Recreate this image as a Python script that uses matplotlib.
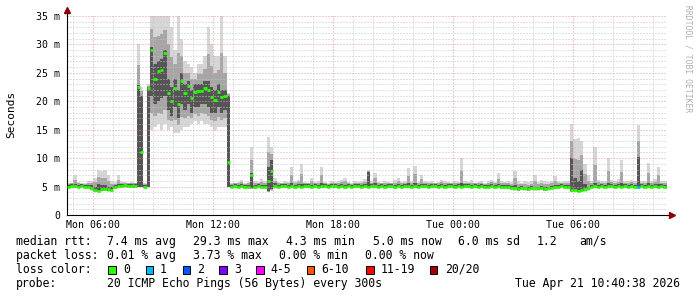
""" SmokePing style latency graph drawn with matplotlib """
import numpy as np
import matplotlib
matplotlib.use("Agg")
import matplotlib.pyplot as plt
from matplotlib.patches import Rectangle

W, H = 697, 297
MONO = "DejaVu Sans Mono"

# one value per 10 minute step, starting Mon 04:42, values in ms
median = [
    5.0, 5.1, 5.1, 5.0, 5.1, 5.0, 5.0, 4.8, 4.4, 4.3, 4.5, 4.6,
    4.5, 4.4, 4.9, 5.1, 5.1, 5.2, 5.1, 5.1, 5.1, 22.5, 11.0, 5.0,
    22.3, 29.0, 24.0, 25.4, 25.5, 28.5, 21.5, 20.0, 22.4, 19.5, 23.5, 21.5,
    22.7, 20.5, 21.7, 21.8, 21.8, 22.3, 22.0, 20.8, 20.3, 21.7, 20.8, 21.0,
    9.3, 5.0, 5.1, 5.0, 5.1, 5.0, 5.0, 7.0, 5.0, 5.1, 5.0, 4.9,
    6.0, 7.7, 5.1, 5.0, 5.1, 5.1, 5.0, 5.1, 5.0, 5.1, 5.0, 5.1,
    5.1, 5.0, 5.1, 5.0, 5.1, 5.1, 5.0, 5.1, 5.1, 5.0, 5.1, 5.0,
    5.1, 5.0, 5.1, 5.1, 5.0, 5.1, 5.0, 5.1, 5.1, 5.0, 5.1, 5.0,
    5.1, 5.1, 5.0, 5.1, 5.0, 5.1, 5.1, 5.0, 5.1, 5.0, 5.1, 5.1,
    5.0, 5.1, 5.1, 5.0, 5.1, 5.0, 5.1, 5.1, 5.0, 5.1, 5.0, 5.1,
    5.1, 5.0, 5.1, 5.0, 5.1, 5.0, 5.0, 5.1, 5.0, 5.1, 4.9, 5.0,
    4.9, 4.8, 4.7, 4.6, 4.8, 4.7, 4.6, 4.8, 4.7, 4.7, 4.8, 4.6,
    4.7, 4.8, 4.9, 5.0, 5.1, 5.0, 4.9, 4.4, 4.4, 4.3, 4.4, 4.5,
    4.7, 5.0, 5.1, 5.0, 5.1, 5.0, 5.1, 5.1, 5.0, 5.1, 5.0, 5.1,
    5.0, 5.1, 5.0, 5.0, 5.1, 5.0, 5.1, 5.0, 5.1, 5.0, 5.1, 5.0,
]
smoke_lo = [
    4.6, 4.7, 4.7, 4.6, 4.7, 4.6, 4.6, 4.3, 4.1, 4.0, 4.1, 4.2,
    4.1, 4.1, 4.5, 4.7, 4.7, 4.8, 4.7, 4.7, 4.7, 5.0, 5.0, 4.7,
    5.0, 15.0, 15.5, 16.0, 15.0, 16.0, 15.0, 15.5, 14.5, 14.5, 15.0, 15.5,
    15.5, 16.0, 16.5, 16.0, 16.5, 16.0, 16.0, 15.5, 15.0, 15.5, 15.5, 15.5,
    5.0, 4.7, 4.7, 4.6, 4.7, 4.6, 4.6, 4.6, 4.6, 4.7, 4.6, 4.5,
    4.0, 4.2, 4.6, 4.6, 4.7, 4.7, 4.6, 4.7, 4.6, 4.7, 4.6, 4.7,
    4.7, 4.6, 4.7, 4.6, 4.7, 4.7, 4.6, 4.7, 4.7, 4.6, 4.7, 4.6,
    4.7, 4.6, 4.7, 4.7, 4.6, 4.7, 4.6, 4.7, 4.7, 4.6, 4.7, 4.6,
    4.7, 4.7, 4.6, 4.7, 4.6, 4.7, 4.7, 4.6, 4.7, 4.6, 4.7, 4.7,
    4.6, 4.7, 4.7, 4.6, 4.7, 4.6, 4.7, 4.7, 4.6, 4.7, 4.6, 4.7,
    4.7, 4.6, 4.7, 4.6, 4.7, 4.6, 4.6, 4.7, 4.6, 4.7, 4.5, 4.6,
    4.5, 4.4, 4.3, 4.2, 4.4, 4.3, 4.2, 4.4, 4.3, 4.3, 4.4, 4.2,
    4.3, 4.4, 4.5, 4.6, 4.7, 4.6, 4.5, 4.0, 4.0, 4.0, 4.0, 4.1,
    4.3, 4.6, 4.7, 4.6, 4.7, 4.6, 4.7, 4.7, 4.6, 4.7, 4.6, 4.7,
    4.6, 4.7, 4.6, 4.6, 4.7, 4.6, 4.7, 4.6, 4.7, 4.6, 4.7, 4.6,
]
smoke_hi = [
    5.6, 5.7, 7.0, 5.8, 5.6, 5.7, 5.9, 6.0, 6.5, 8.0, 7.8, 7.9,
    7.0, 6.0, 5.8, 7.0, 5.9, 5.8, 5.7, 5.8, 5.7, 30.0, 22.5, 5.6,
    23.0, 36.0, 36.0, 36.0, 36.0, 36.0, 36.0, 33.0, 29.0, 35.0, 31.0, 27.0,
    26.6, 26.0, 25.0, 26.6, 26.5, 28.0, 33.0, 30.0, 28.0, 28.0, 35.0, 28.0,
    21.5, 5.6, 5.7, 5.8, 6.2, 5.7, 5.8, 12.0, 6.0, 5.8, 6.4, 5.9,
    13.7, 12.0, 6.5, 5.8, 5.7, 6.0, 5.8, 8.5, 5.9, 6.2, 9.0, 5.8,
    5.7, 6.5, 5.8, 5.9, 8.4, 5.8, 5.7, 6.0, 5.8, 5.9, 6.2, 6.5,
    5.8, 5.7, 6.0, 5.8, 5.9, 6.3, 7.9, 6.0, 7.3, 5.8, 5.7, 6.0,
    5.8, 5.7, 6.1, 6.5, 5.8, 5.9, 8.2, 6.0, 8.7, 5.8, 7.1, 5.9,
    5.8, 6.0, 5.7, 5.8, 6.2, 5.9, 5.8, 5.7, 6.0, 5.8, 10.0, 5.9,
    5.8, 6.1, 5.7, 5.8, 6.0, 5.7, 5.9, 6.2, 5.8, 7.3, 5.9, 5.8,
    6.0, 5.8, 7.8, 5.9, 5.7, 6.0, 5.8, 5.9, 7.0, 5.8, 6.1, 5.9,
    5.8, 6.0, 6.8, 5.9, 5.8, 6.0, 5.9, 16.0, 13.3, 13.5, 13.0, 9.0,
    7.0, 6.0, 12.0, 6.2, 5.9, 6.0, 10.0, 6.1, 5.9, 6.3, 9.6, 6.0,
    5.9, 6.2, 6.0, 15.8, 6.0, 5.9, 9.2, 6.0, 6.3, 8.4, 6.0, 5.9,
]
core_lo = [
    4.9, 4.9, 4.9, 4.9, 4.9, 4.9, 4.8, 4.6, 4.3, 4.2, 4.3, 4.4,
    4.3, 4.3, 4.7, 4.9, 4.9, 5.0, 4.9, 4.9, 4.9, 5.0, 5.0, 4.9,
    5.0, 21.0, 19.5, 20.0, 20.5, 21.0, 18.5, 17.5, 19.0, 17.0, 19.5, 18.5,
    19.5, 18.0, 19.0, 19.0, 19.5, 19.5, 19.0, 18.0, 18.0, 19.0, 18.0, 18.5,
    5.0, 4.9, 4.9, 4.8, 4.9, 4.8, 4.8, 4.7, 4.8, 4.9, 4.8, 4.7,
    4.2, 4.5, 4.9, 4.8, 4.9, 4.9, 4.8, 4.9, 4.8, 4.9, 4.8, 4.9,
    4.9, 4.8, 4.9, 4.8, 4.9, 4.9, 4.8, 4.9, 4.9, 4.8, 4.9, 4.8,
    4.9, 4.8, 4.9, 4.9, 4.8, 4.9, 4.8, 4.9, 4.9, 4.8, 4.9, 4.8,
    4.9, 4.9, 4.8, 4.9, 4.8, 4.9, 4.9, 4.8, 4.9, 4.8, 4.9, 4.9,
    4.8, 4.9, 4.9, 4.8, 4.9, 4.8, 4.9, 4.9, 4.8, 4.9, 4.8, 4.9,
    4.9, 4.8, 4.9, 4.8, 4.9, 4.8, 4.8, 4.9, 4.8, 4.9, 4.7, 4.8,
    4.7, 4.6, 4.5, 4.4, 4.6, 4.5, 4.4, 4.6, 4.5, 4.5, 4.6, 4.4,
    4.5, 4.6, 4.7, 4.8, 4.9, 4.8, 4.7, 4.2, 4.2, 4.1, 4.2, 4.3,
    4.5, 4.8, 4.9, 4.8, 4.9, 4.8, 4.9, 4.9, 4.8, 4.9, 4.8, 4.9,
    4.8, 4.9, 4.8, 4.8, 4.9, 4.8, 4.9, 4.8, 4.9, 4.8, 4.9, 4.8,
]
core_hi = [
    5.3, 5.4, 5.4, 5.3, 5.4, 5.3, 5.3, 5.2, 5.0, 5.4, 5.3, 5.2,
    5.0, 4.9, 5.2, 5.4, 5.4, 5.5, 5.4, 5.4, 5.4, 22.8, 21.0, 5.3,
    22.5, 29.5, 26.5, 27.0, 27.5, 29.0, 24.0, 22.5, 24.0, 22.0, 25.0, 23.0,
    23.5, 22.0, 23.0, 23.0, 23.0, 23.5, 23.5, 22.5, 22.0, 23.0, 22.0, 22.0,
    21.0, 5.3, 5.4, 5.3, 5.4, 5.3, 5.3, 7.3, 5.3, 5.4, 5.3, 5.2,
    8.5, 9.6, 5.6, 5.3, 5.4, 5.4, 5.3, 5.6, 5.3, 5.4, 5.5, 5.4,
    5.4, 5.3, 5.4, 5.3, 5.6, 5.4, 5.3, 5.4, 5.4, 5.3, 5.4, 5.3,
    5.4, 5.3, 5.4, 5.4, 5.3, 5.4, 7.5, 5.4, 5.6, 5.3, 5.4, 5.3,
    5.4, 5.4, 5.3, 5.4, 5.3, 5.4, 5.6, 5.3, 5.7, 5.3, 5.4, 5.4,
    5.3, 5.4, 5.4, 5.3, 5.4, 5.3, 5.4, 5.4, 5.3, 5.4, 5.6, 5.4,
    5.4, 5.3, 5.4, 5.3, 5.4, 5.3, 5.3, 5.4, 5.3, 5.5, 5.2, 5.3,
    5.2, 5.1, 5.3, 4.9, 5.1, 5.0, 4.9, 5.1, 5.0, 5.0, 5.1, 4.9,
    5.0, 5.1, 5.2, 5.3, 5.4, 5.3, 5.2, 10.0, 6.5, 6.0, 8.0, 5.5,
    5.0, 5.3, 5.6, 5.3, 5.4, 5.3, 5.6, 5.4, 5.3, 5.4, 5.6, 5.4,
    5.3, 5.4, 5.3, 10.2, 5.4, 5.3, 5.6, 5.3, 5.4, 5.5, 5.4, 5.3,
]
# lost pings per step (out of 20)
loss = [0] * 171 + [1] + [0] * 8

t_start = 4.7  # hours since Mon 00:00
t_step = 1.0 / 6

x_ticks = [6, 12, 18, 24, 30]
x_labels = ["Mon 06:00", "Mon 12:00", "Mon 18:00", "Tue 00:00", "Tue 06:00"]
y_ticks = [0, 5, 10, 15, 20, 25, 30, 35]
y_labels = ["0", "5 m", "10 m", "15 m", "20 m", "25 m", "30 m", "35 m"]

loss_names = ["0", "1", "2", "3", "4-5", "6-10", "11-19", "20/20"]
loss_colors = ["#26ff00", "#00b8ff", "#0059ff", "#7e00ff",
               "#ff00ff", "#ff5500", "#ff0000", "#a10000"]

rtt_stats = ["7.4 ms avg", "29.3 ms max", "4.3 ms min", "5.0 ms now",
             "6.0 ms sd", "1.2", "am/s"]
loss_stats = ["0.01 % avg", "3.73 % max", "0.00 % min", "0.00 % now"]
probe_text = "20 ICMP Echo Pings (56 Bytes) every 300s"
stamp = "Tue Apr 21 10:40:38 2026"


def fx(px):
    return px / W


def fy(py):
    return 1 - py / H


fig = plt.figure(figsize=(W / 100, H / 100), dpi=100)
fig.patch.set_facecolor("white")
ax = fig.add_axes([fx(66.7), fy(215), fx(600), 199 / H])

n = len(median)
edges = t_start + np.arange(n + 1) * t_step
med = np.array(median)
olo, ohi = np.array(smoke_lo), np.array(smoke_hi)
clo, chi = np.array(core_lo), np.array(core_hi)


def band(lo, hi, color):
    ax.fill_between(edges, np.append(lo, lo[-1]), np.append(hi, hi[-1]),
                    step="post", color=color, linewidth=0, zorder=1)


band(olo, ohi, "#d6d6d6")
band((olo + clo) / 2, (ohi + chi) / 2, "#a6a6a6")
band(clo, chi, "#555555")

seg_colors = [loss_colors[min(l, 7)] for l in loss]
ax.hlines(med, edges[:-1], edges[1:], colors=seg_colors, linewidth=2.0,
          zorder=3)

ax.set_xlim(t_start, t_start + 30)
ax.set_ylim(0, 35)
ax.set_xticks(x_ticks)
ax.set_xticklabels(x_labels, fontfamily=MONO, fontsize=7.1)
ax.set_xticks(np.arange(5, 35), minor=True)
ax.set_yticks(y_ticks)
ax.set_yticklabels(y_labels, fontfamily=MONO, fontsize=7.1)
ax.set_yticks(np.arange(0, 36), minor=True)
ax.tick_params(which="both", length=0)
ax.tick_params(axis="y", pad=4.8)
ax.tick_params(axis="x", pad=3.6)

ax.set_axisbelow("line")
ax.grid(which="minor", color="#c4c4c4", linestyle=(0, (1, 2)), linewidth=0.72)
ax.grid(which="major", color="#e49a9a", linestyle=(0, (1, 2)), linewidth=0.72)

for side in ["top", "right"]:
    ax.spines[side].set_visible(False)
ax.spines["left"].set_linewidth(0.8)
ax.spines["bottom"].set_linewidth(0.8)

# axis extensions with arrow heads
ax.plot([0, 0], [1, 1.03], transform=ax.transAxes, color="black",
        linewidth=0.8, clip_on=False)
ax.plot([1, 1.008], [0, 0], transform=ax.transAxes, color="black",
        linewidth=0.8, clip_on=False)
ax.plot([0], [1.03], marker="^", markersize=4.5, color="#8b0000",
        transform=ax.transAxes, clip_on=False)
ax.plot([1.008], [0], marker=">", markersize=4.5, color="#8b0000",
        transform=ax.transAxes, clip_on=False)

fig.text(fx(11), fy(114), "Seconds", rotation=90, ha="center", va="center",
         fontfamily=MONO, fontsize=8)
fig.text(fx(688), fy(5), "RRDTOOL / TOBI OETIKER", rotation=270,
         ha="center", va="top", fontfamily=MONO, fontsize=5.8,
         color="#b0b0b0")

text_kw = dict(fontfamily=MONO, fontsize=8.3, va="baseline")

fig.text(fx(16), fy(245), "median rtt:", **text_kw)
for xp, s in zip([106.7, 193.3, 286, 373, 458, 537, 579.3], rtt_stats):
    fig.text(fx(xp), fy(245), s, **text_kw)

fig.text(fx(16), fy(259), "packet loss:", **text_kw)
for xp, s in zip([106.7, 193.3, 279.3, 365.3], loss_stats):
    fig.text(fx(xp), fy(259), s, **text_kw)

fig.text(fx(16), fy(273), "loss color:", **text_kw)
box_x = [108.3, 145.7, 182.7, 219.3, 256, 306.7, 366.3, 429.7]
label_x = [123.3, 160, 196.7, 234, 270.7, 321.7, 380.3, 445.3]
for bx, lx, name, c in zip(box_x, label_x, loss_names, loss_colors):
    fig.patches.append(Rectangle((fx(bx), fy(273.5)), fx(7.7), 7.7 / H,
                                 transform=fig.transFigure, facecolor=c,
                                 edgecolor="black", linewidth=0.7))
    fig.text(fx(lx), fy(273), name, **text_kw)

fig.text(fx(16), fy(287), "probe:", **text_kw)
fig.text(fx(106.7), fy(287), probe_text, **text_kw)
fig.text(fx(680), fy(287), stamp, ha="right", fontfamily=MONO,
         fontsize=8.3, va="baseline")

fig.savefig("out.png", dpi=100)
